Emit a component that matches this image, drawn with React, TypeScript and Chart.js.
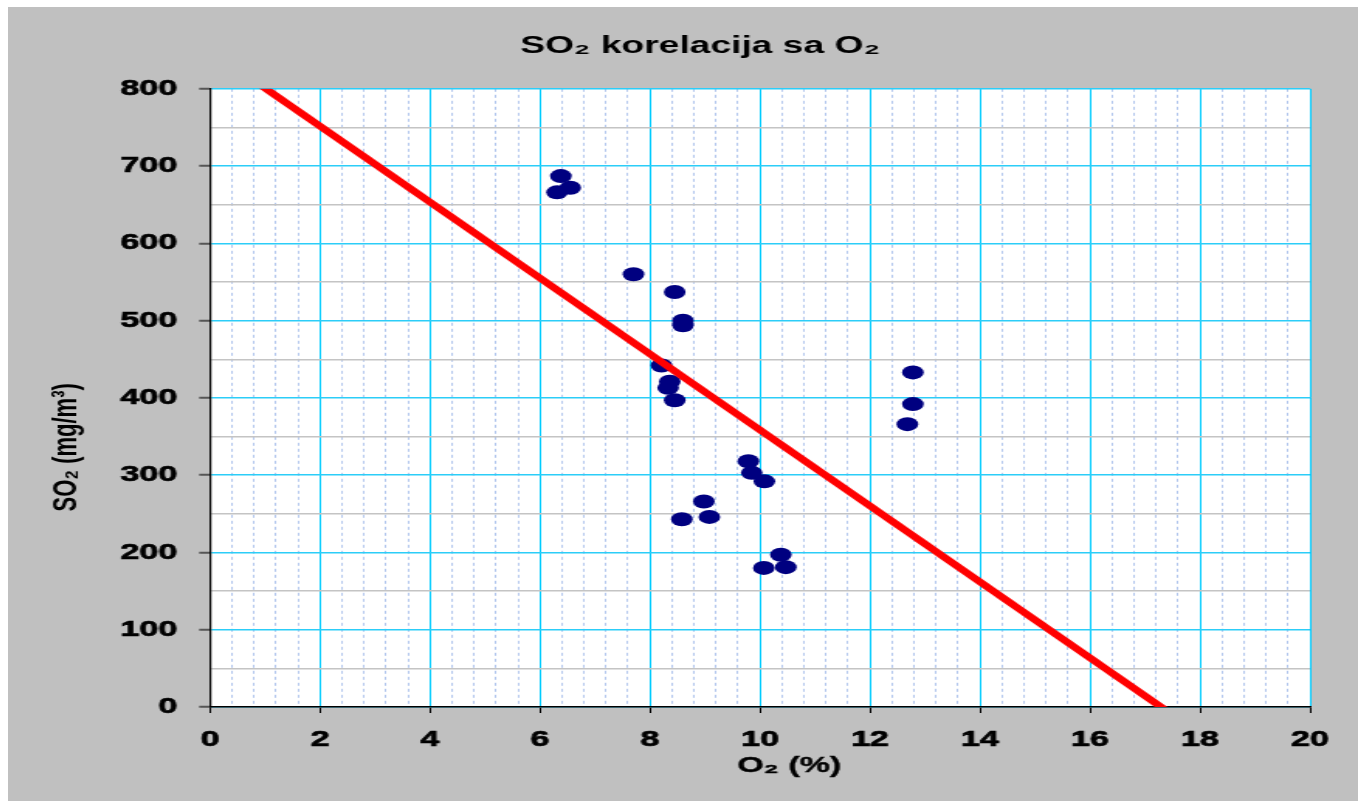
import React, { useEffect, useRef } from 'react';
import { Chart, registerables } from 'chart.js';

Chart.register(...registerables);

// ---- data ----
const o2Values = [6.38, 6.55, 6.31, 7.7, 8.45, 8.6, 8.6, 8.21, 8.36, 8.33, 8.45, 9.79, 9.85, 10.08, 8.98, 8.58, 9.08, 10.38, 10.07, 10.47, 12.78, 12.78, 12.68];
const so2Values = [687, 672, 666, 560, 537, 500, 494, 442, 421, 413, 397, 318, 303, 292, 266, 243, 246, 197, 180, 181, 433, 392, 366];
const trendO2 = [0, 20];
const trendSO2 = [850, -133];
const xTickLabels = [0, 2, 4, 6, 8, 10, 12, 14, 16, 18, 20];
const yTickLabels = [0, 100, 200, 300, 400, 500, 600, 700, 800];

const TITLE = 'SO\u2082 korelacija sa O\u2082';
const X_TITLE = 'O\u2082 (%)';
const Y_TITLE = 'SO\u2082 (mg/m\u00B3)';

// ---- layout (the original picture is stretched horizontally) ----
const STRETCH = 1.55;
const CSS_W = 1350;
const CSS_H = 794;
const CANVAS_W = Math.round(CSS_W / STRETCH);
const FONT = "'Liberation Sans', Arial, sans-serif";

const near = (v: number, step: number) => Math.abs(v / step - Math.round(v / step)) < 1e-6;

const decorations = {
  id: 'decorations',
  beforeDraw(chart: any) {
    const { ctx, chartArea } = chart;
    ctx.save();
    ctx.fillStyle = '#ffffff';
    ctx.fillRect(chartArea.left, chartArea.top, chartArea.right - chartArea.left, chartArea.bottom - chartArea.top);
    ctx.restore();
  },
  afterDraw(chart: any) {
    const { ctx, chartArea } = chart;
    const w = chartArea.right - chartArea.left;
    const h = chartArea.bottom - chartArea.top;
    ctx.save();
    ctx.fillStyle = '#000000';
    ctx.strokeStyle = '#000000';
    ctx.lineWidth = 0.4;
    ctx.font = `bold 22px ${FONT}`;
    ctx.textAlign = 'center';
    ctx.textBaseline = 'middle';
    // x axis title
    const xx = chartArea.left + w * 0.5266;
    const xy = chartArea.bottom + 58.5;
    ctx.fillText(X_TITLE, xx, xy);
    ctx.strokeText(X_TITLE, xx, xy);
    // y axis title
    ctx.translate(38, chartArea.top + h * 0.58);
    ctx.rotate(-Math.PI / 2);
    ctx.fillText(Y_TITLE, 0, 0);
    ctx.restore();
  },
};

export default function App() {
  const ref = useRef<HTMLCanvasElement>(null);

  useEffect(() => {
    const points = o2Values.map((x, i) => ({ x, y: so2Values[i] }));
    const trend = trendO2.map((x, i) => ({ x, y: trendSO2[i] }));

    const chart = new Chart(ref.current as HTMLCanvasElement, {
      type: 'scatter',
      data: {
        datasets: [
          {
            label: 'trend',
            data: trend,
            showLine: true,
            borderColor: '#ff0000',
            backgroundColor: '#ff0000',
            borderWidth: 6,
            pointRadius: 0,
            pointHoverRadius: 0,
            clip: 0,
          } as any,
          {
            label: 'SO2',
            data: points,
            backgroundColor: '#000080',
            borderColor: '#000080',
            borderWidth: 0,
            pointRadius: 7,
            pointHoverRadius: 7,
          },
        ],
      },
      plugins: [decorations],
      options: {
        responsive: false,
        animation: false,
        events: [],
        layout: { padding: { left: 53, right: 31, top: 0, bottom: 0 } },
        plugins: {
          legend: { display: false },
          tooltip: { enabled: false },
          title: {
            display: true,
            text: TITLE,
            color: '#000000',
            font: { family: FONT, size: 24, weight: 'bold', lineHeight: 1.2 },
            padding: { top: 25, bottom: 28 },
          },
        },
        scales: {
          x: {
            type: 'linear',
            min: 0,
            max: 20,
            afterFit: (scale: any) => {
              scale.height = 94;
            },
            ticks: {
              stepSize: 0.4,
              autoSkip: false,
              maxRotation: 0,
              minRotation: 0,
              padding: 13.8,
              color: '#000000',
              textStrokeColor: '#000000',
              textStrokeWidth: 0.7,
              font: { family: FONT, size: 22, weight: 'bold' },
              callback: (v: any) => (xTickLabels.some((t) => Math.abs(t - v) < 1e-6) ? String(Math.round(v)) : ''),
            },
            grid: {
              color: (c: any) => (c.tick && near(c.tick.value, 2) ? '#00ccff' : '#b3c7ee'),
              lineWidth: 1,
              tickLength: 6,
              tickWidth: 1,
              tickColor: (c: any) => (c.tick && near(c.tick.value, 2) ? '#000000' : 'rgba(0,0,0,0)'),
            },
            border: {
              color: '#000000',
              width: 1.5,
              dash: (c: any) => (c.tick && !near(c.tick.value, 2) ? [3, 3] : []),
            },
          } as any,
          y: {
            type: 'linear',
            min: 0,
            max: 800,
            afterFit: (scale: any) => {
              scale.width = 77.3;
            },
            ticks: {
              stepSize: 50,
              autoSkip: false,
              padding: 14,
              color: '#000000',
              textStrokeColor: '#000000',
              textStrokeWidth: 0.7,
              font: { family: FONT, size: 22, weight: 'bold' },
              callback: (v: any) => (yTickLabels.some((t) => Math.abs(t - v) < 1e-6) ? String(Math.round(v)) : ''),
            },
            grid: {
              color: (c: any) => (c.tick && near(c.tick.value, 100) ? '#2ccdf8' : '#c4c4c4'),
              lineWidth: 1.5,
              tickLength: 7,
              tickWidth: 2,
              tickColor: (c: any) => (c.tick && near(c.tick.value, 100) ? '#555555' : 'rgba(0,0,0,0)'),
            },
            border: { color: '#000000', width: 1.2 },
          } as any,
        },
      },
    });
    return () => chart.destroy();
  }, []);

  return (
    <div
      style={{
        position: 'fixed',
        left: 8,
        top: 7,
        width: CSS_W,
        height: CSS_H,
        background: '#c0c0c0',
      }}
    >
      <canvas
        ref={ref}
        width={CANVAS_W}
        height={CSS_H}
        style={{ width: CSS_W, height: CSS_H, display: 'block' }}
      />
    </div>
  );
}
